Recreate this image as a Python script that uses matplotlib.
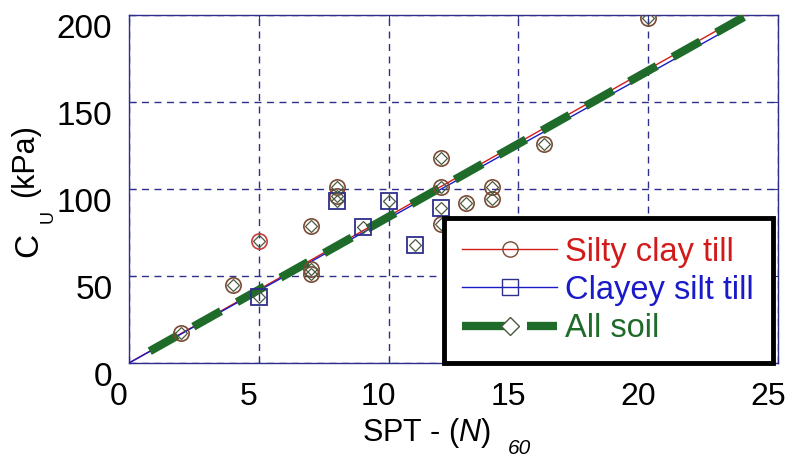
import matplotlib
matplotlib.use("Agg")
import matplotlib.pyplot as plt
from matplotlib.lines import Line2D
from matplotlib.transforms import ScaledTranslation

plt.rcParams['font.family'] = ['Liberation Sans', 'DejaVu Sans']
plt.rcParams['mathtext.fontset'] = 'custom'
plt.rcParams['mathtext.rm'] = 'Liberation Sans'
plt.rcParams['mathtext.it'] = 'Liberation Sans:italic'

# ---- data ----
silty_x = [2, 4, 5, 7, 7, 7, 8, 8, 12, 12, 12, 13, 14, 14, 16, 20]
silty_y = [17, 45, 70, 79, 54, 51, 101, 96, 118, 101, 80, 92, 101, 94, 126, 198]
silty_red_idx = [2]  # the reddish circle at (5, 70)

clayey_x = [5, 8, 9, 10, 11, 12]
clayey_y = [38, 93, 78, 93, 68, 89]

fit_x = [0, 23.7]
silty_fit = [0, 200]
clayey_fit = [0, 197]
all_fit_x = [0.8, 23.7]
all_fit = [6.8, 199]

x_ticks = [0, 5, 10, 15, 20, 25]
y_ticks = [0, 50, 100, 150, 200]

labels = ['Silty clay till', 'Clayey silt till', 'All soil']

navy = '#2e2e8c'
brown = '#7a4a32'
red = '#d21a1a'
blue = '#1a1ac8'
green = '#1e6b2a'

W, H = 787, 459
fig = plt.figure(figsize=(W / 100, H / 100), dpi=100)
ax = fig.add_axes([129 / W, 1 - 363 / H, 649 / W, 348 / H])

# fit lines
ax.plot(fit_x, silty_fit, color=red, lw=1.0, zorder=3)
ax.plot(fit_x, clayey_fit, color=blue, lw=1.0, zorder=3)
ax.plot(all_fit_x, all_fit, color=green, lw=6, dashes=(3.8, 2.2),
        solid_capstyle='round', zorder=4)

# data markers
for i, (x, y) in enumerate(zip(silty_x, silty_y)):
    c = '#c83c3c' if i in silty_red_idx else brown
    ax.plot([x], [y], ls='none', marker='o', ms=11, mfc='none', mec=c,
            mew=1.2, zorder=5)
ax.plot(clayey_x, clayey_y, ls='none', marker='s', ms=12, mfc='none',
        mec=navy, mew=1.3, zorder=5)
ax.plot(silty_x + clayey_x, silty_y + clayey_y, ls='none', marker='D',
        ms=6.5, mfc='none', mec='#4a5a40', mew=0.9, zorder=6)

ax.set_xlim(x_ticks[0], x_ticks[-1])
ax.set_ylim(y_ticks[0], y_ticks[-1])
ax.set_xticks(x_ticks)
ax.set_yticks(y_ticks)
ax.grid(True, color=navy, ls=(0, (5, 4)), lw=1.0)
ax.set_axisbelow(True)
for s in ax.spines.values():
    s.set_color(navy)
    s.set_linewidth(1.0)
ax.tick_params(direction='in', length=5, color=navy, labelsize=23,
               top=True, right=True, labelcolor='black')
ax.tick_params(axis='y', labelsize=24)
ax.tick_params(axis='x', pad=14)
ax.tick_params(axis='y', pad=12)

for lab in ax.get_xticklabels():
    lab.set_transform(lab.get_transform() +
                      ScaledTranslation(-10 / 100, 0, fig.dpi_scale_trans))
for lab in ax.get_yticklabels():
    lab.set_transform(lab.get_transform() +
                      ScaledTranslation(0, -11 / 100, fig.dpi_scale_trans))

# axis labels composed from parts (positions in figure pixels)
def ftext(px, py, s, size, rot=0, **kw):
    fig.text(px / W, 1 - py / H, s, fontsize=size, rotation=rot,
             rotation_mode='anchor', ha='left', va='baseline', **kw)

ftext(362, 441, r'SPT - $\mathit{(N)}$', 22)
ftext(508, 454, '60', 15, style='italic')
ftext(37, 257, 'C', 24, rot=90)
ftext(53, 223, 'U', 13, rot=90)
ftext(33, 197, '(kPa)', 22, rot=90)

handles = [
    Line2D([], [], color=red, lw=1.0, marker='o', ms=11, mfc='none', mec=brown),
    Line2D([], [], color=blue, lw=1.0, marker='s', ms=12, mfc='none', mec=navy),
    Line2D([], [], color=green, lw=6, dashes=(5.4, 2.4), marker='D', ms=9,
           mfc='white', mec='#4a5a40'),
]
leg = ax.legend(handles, labels, loc='lower right', bbox_to_anchor=(0.992, 0.0),
                borderaxespad=0, fontsize=23.5, frameon=True, fancybox=False,
                handlelength=2.9, handletextpad=0.25, labelspacing=0.22,
                borderpad=0.58, markerscale=1.0)
fr = leg.get_frame()
fr.set_edgecolor('black')
fr.set_linewidth(3.5)
fr.set_alpha(1)
for t, c in zip(leg.get_texts(), [red, blue, green]):
    t.set_color(c)
leg.set_zorder(10)

fig.savefig('out.png', dpi=100)
